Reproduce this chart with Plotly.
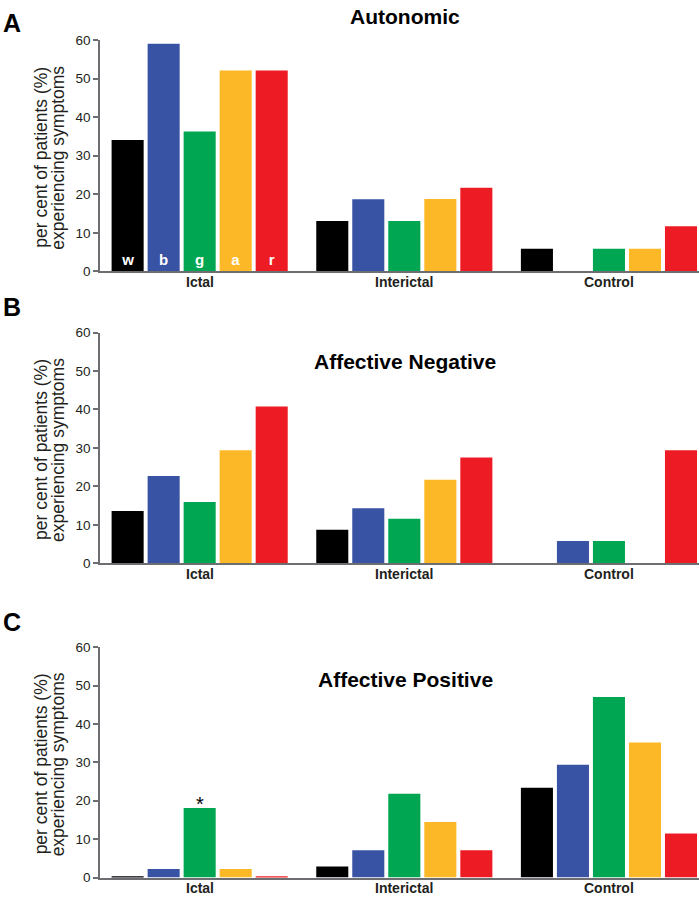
import plotly.graph_objects as go
from plotly.subplots import make_subplots

groups = ['Ictal', 'Interictal', 'Control']
series = ['w', 'b', 'g', 'a', 'r']
colours = ['#000000', '#3953a4', '#00a651', '#fdb827', '#ed1c24']

# values per colour, order: Ictal, Interictal, Control
autonomic_w = [34.1, 13.1, 5.9]
autonomic_b = [59.0, 18.7, 0]
autonomic_g = [36.3, 13.1, 5.9]
autonomic_a = [52.1, 18.8, 5.9]
autonomic_r = [52.1, 21.7, 11.7]

negative_w = [13.6, 8.7, 0]
negative_b = [22.7, 14.3, 5.8]
negative_g = [15.9, 11.6, 5.8]
negative_a = [29.4, 21.7, 0]
negative_r = [40.8, 27.5, 29.4]

positive_w = [0.3, 2.9, 23.4]
positive_b = [2.2, 7.1, 29.4]
positive_g = [18.1, 21.8, 47.0]
positive_a = [2.2, 14.5, 35.2]
positive_r = [0.3, 7.1, 11.5]

panel_titles = ['Autonomic', 'Affective Negative', 'Affective Positive']
panel_letters = ['A', 'B', 'C']
ytitle_1 = 'per cent of patients (%)'
ytitle_2 = 'experiencing symptoms'

panels = [
    [autonomic_w, autonomic_b, autonomic_g, autonomic_a, autonomic_r],
    [negative_w, negative_b, negative_g, negative_a, negative_r],
    [positive_w, positive_b, positive_g, positive_a, positive_r],
]

W, H = 699, 900
AXIS_X = 100  # x of the y axis line
FONT = 'Liberation Sans, Arial, Helvetica, sans-serif'

# target positions measured on the reference (y of 60, y of 0)
plot_px = [(40, 271.5), (332.7, 563.3), (647.3, 877.7)]
title_px = [17, 362, 680]
letter_px = [16, 307, 622]
xlabel_px = [282, 574.3, 888.3]


def fix_y(y):
    # the captured page comes out slightly squashed vertically; undo it
    return (y - 7.0) / 0.9835


def px_x(x):
    return (x - AXIS_X) / (W - AXIS_X)


def px_y(y):
    return 1 - fix_y(y) / H


fig = make_subplots(rows=3, cols=1)

for p, vals in enumerate(panels):
    for s in range(5):
        text = [series[s], '', ''] if p == 0 else None
        fig.add_trace(go.Bar(
            x=groups, y=vals[s], name=series[s],
            marker=dict(color=colours[s], line=dict(width=0)),
            text=text, textposition='inside',
            insidetextanchor='start',
            textfont=dict(color='white', size=15, family=FONT, weight='bold'),
            cliponaxis=False,
            showlegend=False,
            hoverinfo='skip',
        ), row=p + 1, col=1)

annotations = []
for p in range(3):
    top, bottom = plot_px[p]
    fig.update_yaxes(domain=[px_y(bottom), px_y(top)], row=p + 1, col=1)
    annotations.append(dict(
        text=panel_titles[p], xref='paper', yref='paper',
        x=px_x(405), y=px_y(title_px[p]), xanchor='center', yanchor='middle',
        showarrow=False, font=dict(size=21, family=FONT, color='black', weight='bold')))
    if p == 0:
        # keep the first letter inside the page
        ly, lanchor = 1, 'top'
    else:
        ly, lanchor = px_y(letter_px[p]), 'middle'
    annotations.append(dict(
        text=panel_letters[p], xref='paper', yref='paper',
        x=px_x(1), y=ly, xanchor='left', yanchor=lanchor,
        showarrow=False, font=dict(size=25, family=FONT, color='black', weight='bold')))
    mid = (top + bottom) / 2 + 2
    annotations.append(dict(
        text=ytitle_1, xref='paper', yref='paper',
        x=px_x(41), y=px_y(mid), xanchor='center', yanchor='middle',
        textangle=-90, showarrow=False,
        font=dict(size=17.5, family=FONT, color='#231f20')))
    annotations.append(dict(
        text=ytitle_2, xref='paper', yref='paper',
        x=px_x(58), y=px_y(mid), xanchor='center', yanchor='middle',
        textangle=-90, showarrow=False,
        font=dict(size=17.5, family=FONT, color='#231f20')))
    xref = 'x' if p == 0 else 'x%d' % (p + 1)
    for g in groups:
        annotations.append(dict(
            text=g, xref=xref, yref='paper',
            x=g, y=px_y(xlabel_px[p]), xanchor='center', yanchor='middle',
            showarrow=False,
            font=dict(size=14, family=FONT, color='#231f20', weight='bold')))

# significance marker above the ictal green bar in panel C
annotations.append(dict(
    text='*', xref='x3', yref='y3', x=groups[0], y=positive_g[0],
    xanchor='center', yanchor='middle', yshift=4, showarrow=False,
    font=dict(size=20, family=FONT, color='black')))

fig.update_xaxes(
    type='category', range=[-0.487, 2.44],
    showline=True, linecolor='#6d6e71', linewidth=1.5,
    ticks='', showgrid=False, zeroline=False, showticklabels=False,
)
fig.update_yaxes(
    range=[0, 60], dtick=10,
    showline=True, linecolor='#6d6e71', linewidth=1.5,
    ticks='outside', ticklen=5, tickcolor='#6d6e71', tickwidth=1.5,
    showgrid=False, zeroline=False,
    tickfont=dict(size=13.5, family=FONT, color='#231f20'),
)

fig.update_layout(
    width=W, height=H,
    margin=dict(l=AXIS_X, r=0, t=0, b=0),
    barmode='group', bargap=0.12, bargroupgap=0.11,
    plot_bgcolor='white', paper_bgcolor='white',
    annotations=annotations,
    font=dict(family=FONT),
)

# drop the default page margin so the figure sits at the window corner
fig.write_html('out.html', config={'displayModeBar': False},
               post_script="document.body.style.margin = '0';")
